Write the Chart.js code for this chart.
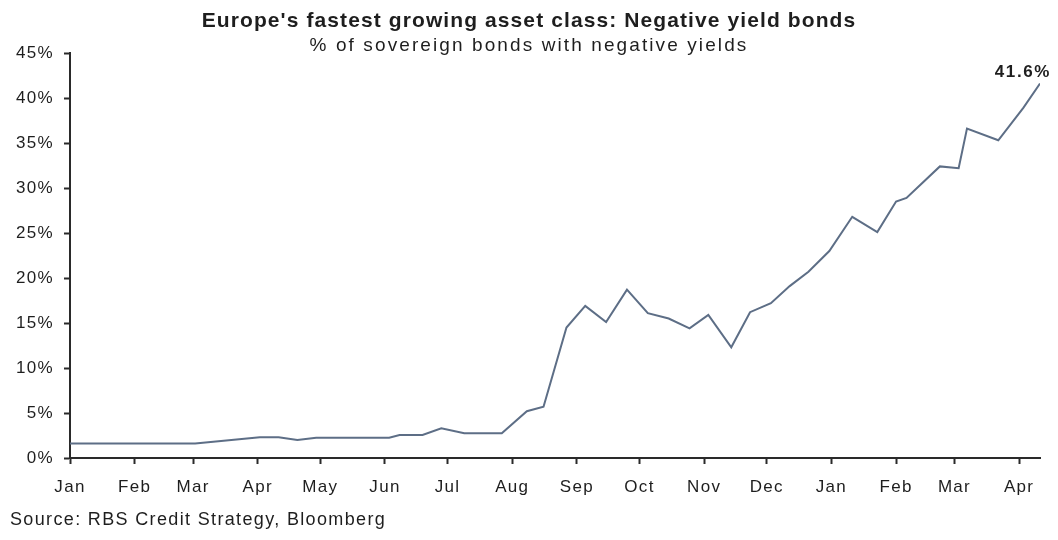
<!DOCTYPE html>
<html>
<head>
<meta charset="utf-8">
<script src="https://cdn.jsdelivr.net/npm/chart.js@4/dist/chart.umd.min.js"></script>
<style>
  html, body { margin: 0; padding: 0; background: #fff; }
  #wrap { position: relative; width: 1058px; height: 540px; overflow: hidden; }
  #wrap canvas { position: absolute; left: 0; top: 0; }
  .txt { position: absolute; white-space: nowrap; font-family: "Liberation Sans", Arial, sans-serif; color: #1e1e1e; }
  #title { left: 0; width: 1058px; text-align: center; top: 8px; font-size: 21px; font-weight: bold; letter-spacing: 1.1px; }
  #subtitle { left: 0; width: 1058px; text-align: center; top: 34px; font-size: 19px; letter-spacing: 2.1px; }
  #source { left: 10px; top: 509px; font-size: 18px; letter-spacing: 1.35px; }
</style>
</head>
<body>
<div id="wrap">
  <canvas id="negYield" width="1058" height="540"></canvas>
  <div class="txt" id="title">Europe's fastest growing asset class: Negative yield bonds</div>
  <div class="txt" id="subtitle">% of sovereign bonds with negative yields</div>
  <div class="txt" id="source">Source: RBS Credit Strategy, Bloomberg</div>
</div>
<script>
(() => {
    'use strict';

    // observation dates and % of sovereign bonds with negative yields
    const dates = [
        '2014-01-01', '2014-03-02', '2014-04-02', '2014-04-11', '2014-04-20', '2014-04-29',
        '2014-06-03', '2014-06-08', '2014-06-19', '2014-06-28', '2014-07-09', '2014-07-27',
        '2014-08-08', '2014-08-16', '2014-08-27', '2014-09-05', '2014-09-15', '2014-09-25',
        '2014-10-05', '2014-10-15', '2014-10-25', '2014-11-03', '2014-11-14', '2014-11-23',
        '2014-12-03', '2014-12-12', '2014-12-21', '2014-12-31', '2015-01-11', '2015-01-23',
        '2015-02-01', '2015-02-06', '2015-02-22', '2015-03-03', '2015-03-07', '2015-03-22',
        '2015-04-03', '2015-04-11'
    ];
    const shares = [
        1.6, 1.6, 2.3, 2.3, 2.0, 2.25,
        2.25, 2.55, 2.55, 3.3, 2.75, 2.75,
        5.2, 5.7, 14.5, 16.9, 15.1, 18.7,
        16.1, 15.5, 14.4, 15.9, 12.3, 16.2,
        17.2, 19.1, 20.7, 23.0, 26.8, 25.1,
        28.5, 28.9, 32.4, 32.2, 36.6, 35.3,
        38.9, 41.6
    ];
    const monthStarts = [
        '2014-01-01', '2014-02-01', '2014-03-01', '2014-04-01', '2014-05-01', '2014-06-01',
        '2014-07-01', '2014-08-01', '2014-09-01', '2014-10-01', '2014-11-01', '2014-12-01',
        '2015-01-01', '2015-02-01', '2015-03-01', '2015-04-01'
    ];
    const monthLabels = ['Jan', 'Feb', 'Mar', 'Apr', 'May', 'Jun', 'Jul', 'Aug', 'Sep', 'Oct', 'Nov', 'Dec', 'Jan', 'Feb', 'Mar', 'Apr'];
    const yTicks = [0, 5, 10, 15, 20, 25, 30, 35, 40, 45];
    const lastLabel = '41.6%';

    const origin = Date.UTC(2014, 0, 1);
    const dayOf = s => {
        const [y, m, d] = s.split('-').map(Number);
        return (Date.UTC(y, m - 1, d) - origin) / 864e5;
    };
    const points = dates.map((d, i) => ({ x: dayOf(d), y: shares[i] }));
    const tickDays = monthStarts.map(dayOf);

    const axisColor = '#2a2a2a';
    const textColor = '#1e1e1e';
    const lineColor = '#5d6e86';
    const font = { family: '"Liberation Sans", Arial, sans-serif', size: 17 };

    // the source picture has slightly wide-set lettering
    const spacing = {
        id: 'spacing',
        beforeUpdate(chart) { chart.ctx.letterSpacing = '1.3px'; }
    };

    const endLabel = {
        id: 'endLabel',
        afterDatasetsDraw(chart) {
            const meta = chart.getDatasetMeta(0);
            const pt = meta.data[meta.data.length - 1];
            const { ctx } = chart;
            ctx.save();
            ctx.font = 'bold 17px "Liberation Sans", Arial, sans-serif';
            ctx.letterSpacing = '1.6px';
            ctx.fillStyle = textColor;
            ctx.textAlign = 'right';
            ctx.textBaseline = 'bottom';
            ctx.fillText(lastLabel, pt.x + 11, pt.y - 3);
            ctx.restore();
        }
    };

    new Chart(document.getElementById('negYield'), {
        type: 'line',
        data: {
            datasets: [{
                data: points,
                borderColor: lineColor,
                borderWidth: 2,
                pointRadius: 0,
                tension: 0,
                fill: false
            }]
        },
        options: {
            responsive: false,
            animation: false,
            layout: { padding: { left: 0, top: 53, right: 18, bottom: 42 } },
            plugins: { legend: { display: false }, tooltip: { enabled: false } },
            scales: {
                x: {
                    type: 'linear',
                    min: 0,
                    max: tickDays[tickDays.length - 1] + 10,
                    afterBuildTicks: axis => { axis.ticks = tickDays.map(v => ({ value: v })); },
                    afterFit: axis => { axis.height = 40; },
                    border: { color: axisColor, width: 2 },
                    grid: { drawOnChartArea: false, tickLength: 6, tickColor: axisColor, tickWidth: 2 },
                    ticks: {
                        autoSkip: false,
                        maxRotation: 0,
                        padding: 13,
                        color: textColor,
                        font,
                        callback: (v, i) => monthLabels[i]
                    }
                },
                y: {
                    min: 0,
                    max: 45,
                    afterBuildTicks: axis => { axis.ticks = yTicks.map(v => ({ value: v })); },
                    afterFit: axis => { axis.width = 70; },
                    border: { color: axisColor, width: 2 },
                    grid: { drawOnChartArea: false, tickLength: 6, tickColor: axisColor, tickWidth: 2 },
                    ticks: {
                        padding: 10,
                        color: textColor,
                        font,
                        callback: v => v + '%'
                    }
                }
            }
        },
        plugins: [spacing, endLabel]
    });
})();
</script>
</body>
</html>
